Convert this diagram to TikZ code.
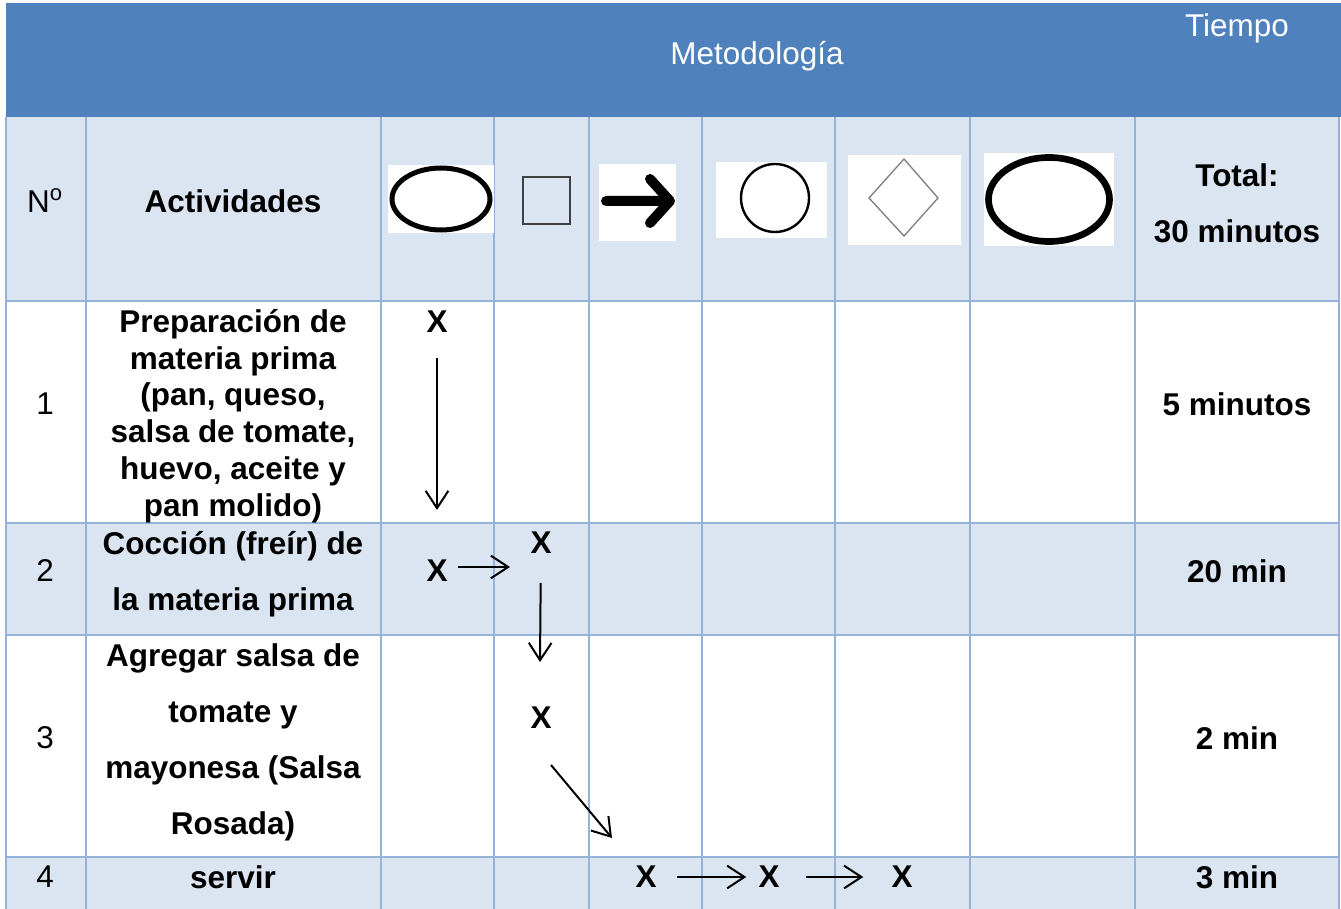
\documentclass[tikz,border=0pt]{standalone}
\usepackage{fontspec}
\setmainfont{Liberation Sans}
\usetikzlibrary{arrows.meta}
\definecolor{azul}{HTML}{4F81BD}
\definecolor{celeste}{HTML}{DBE5F1}
\definecolor{rejilla}{HTML}{95B3D7}
\tikzset{
  texto/.style={align=center, inner sep=0pt, font=\fontsize{23.6}{27.6}\selectfont},
  negrita/.style={texto, font=\bfseries\fontsize{23.6}{27.6}\selectfont},
  ancho/.style={texto, font=\bfseries\fontsize{23.6}{42}\selectfont},
  marca/.style={inner sep=0pt, font=\bfseries\fontsize{23.6}{27.6}\selectfont},
  flecha/.style={-{Straight Barb[length=13pt,width=17pt]}, line width=1.5pt},
}

\begin{document}
\begin{tikzpicture}[x=0.75pt, y=-0.75pt]
    \useasboundingbox (0,0) rectangle (1341,909);
    % fondos de las filas
    \fill[azul] (6,3) rectangle (1341,117);
    \fill[celeste] (6,117) rectangle (1339,301);
    \fill[celeste] (6,523) rectangle (1339,635);
    \fill[celeste] (6,857) rectangle (1339,909);
    % rejilla
    \foreach \c in {6,86,381,494,589,702,835,970,1135,1339}
        \draw[rejilla, line width=1.6pt] (\c,117) -- (\c,909);
    \foreach \f in {301,523,635,857}
        \draw[rejilla, line width=1.6pt] (6,\f) -- (1339,\f);

    \node[texto, text=white] (metodo) at (757,56) {Metodología};
    \node[texto, text=white] (tiempo) at (1237,28) {Tiempo};

    % simbolos de la cabecera
    \fill[white] (388,165) rectangle (494,233);
    \draw[line width=3.75pt] (441,199) ellipse [x radius=49, y radius=31]; % operacion
    \draw[black!75, line width=1.2pt] (523,177) rectangle (570,224); % inspeccion
    \fill[white] (599,164) rectangle (676,241);
    \draw[line width=7.5pt, line cap=round, line join=round] (606,201) -- (670,201) (650,179) -- (670,201) -- (650,223); % transporte
    \fill[white] (716,162) rectangle (827,238);
    \draw[line width=1.8pt] (775,198) circle [radius=34];
    \fill[white] (848,155) rectangle (961,245);
    \draw[gray, line width=1pt] (904,159) -- (938,198) -- (904,236) -- (869,198) -- cycle; % decision
    \fill[white] (984,153) rectangle (1114,246);
    \draw[line width=5pt] (1049,199.5) ellipse [x radius=60.5, y radius=42]; % almacenamiento

    \node[texto] (num) at (45,201) {N\textsuperscript{o}};
    \node[negrita] (activ) at (233,201) {Actividades};
    \node[ancho] (total) at (1237,203) {Total:\\30 minutos};

    % fila 1
    \node[texto] (n1) at (45,404) {1};
    \node[negrita] (act1) at (233,416) {Preparación de\\materia prima\\(pan, queso,\\salsa de tomate,\\huevo, aceite y\\pan molido)};
    \node[negrita] (t1) at (1237,404) {5 minutos};
    % fila 2
    \node[texto] (n2) at (45,571) {2};
    \node[ancho] (act2) at (233,574) {Cocción (freír) de\\la materia prima};
    \node[negrita] (t2) at (1237,571) {20 min};
    % fila 3
    \node[texto] (n3) at (45,738) {3};
    \node[ancho] (act3) at (233,742) {Agregar salsa de\\tomate y\\mayonesa (Salsa\\Rosada)};
    \node[negrita] (t3) at (1237,738) {2 min};
    % fila 4
    \node[texto] (n4) at (45,877) {4};
    \node[negrita] (act4) at (233,877) {servir};
    \node[negrita] (t4) at (1237,877) {3 min};

    % marcas X
    \node[marca] (x11) at (437,322) {X};
    \node[marca] (x21) at (437,571) {X};
    \node[marca] (x22) at (541,543) {X};
    \node[marca] (x31) at (541,718) {X};
    \node[marca] (x41) at (646,877) {X};
    \node[marca] (x42) at (769,877) {X};
    \node[marca] (x43) at (902,877) {X};

    \coordinate (f1) at (437,510);
    \coordinate (f2) at (510,567);
    \coordinate (f3) at (540,662);
    \coordinate (i4) at (551,765);
    \coordinate (f4) at (612,838);

    \draw[flecha, shorten <=18.5pt] (x11) -- (f1);
    \draw[flecha, shorten <=7.5pt] ([yshift=3pt]x21.east) -- (f2);
    \draw[flecha, shorten <=21.5pt] (x22) -- (f3);
    \draw[flecha] (i4) -- (f4);
    \draw[flecha, shorten <=15pt, shorten >=9pt] (x41) -- (x42);
    \draw[flecha, shorten <=19.5pt, shorten >=21pt] (x42) -- (x43);
\end{tikzpicture}
\end{document}
